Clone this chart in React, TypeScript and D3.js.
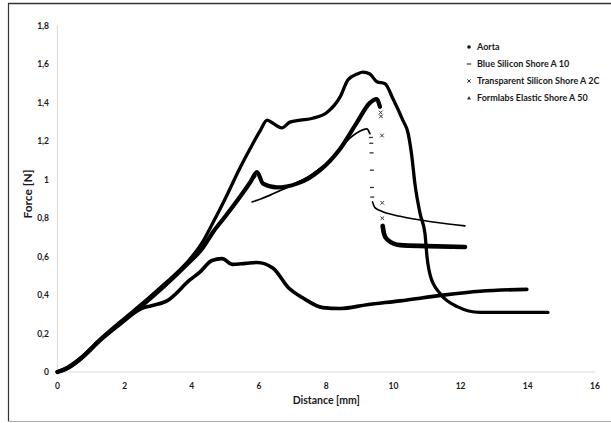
import * as d3 from "d3";
import { useEffect, useRef } from "react";

type P = [number, number];

// distance [mm], force [N]
const aorta: P[] = [
  [0, 0], [0.3, 0.02], [0.7, 0.07], [1.27, 0.165], [2, 0.27], [2.5, 0.33], [2.8, 0.345],
  [3.26, 0.37], [3.95, 0.48], [4.24, 0.52], [4.6, 0.58], [4.9, 0.59], [5.2, 0.56],
  [5.6, 0.565], [5.94, 0.57], [6.42, 0.54], [6.87, 0.44], [7.31, 0.385], [7.9, 0.335],
  [8.41, 0.33], [9.21, 0.35], [10.2, 0.37], [11.48, 0.4], [12.58, 0.42], [13.97, 0.43],
];

const blueA: P[] = [
  [0, 0], [0.3, 0.02], [0.7, 0.07], [1.27, 0.165], [2, 0.27], [2.55, 0.35], [3.2, 0.45],
  [3.86, 0.56], [4.3, 0.64], [4.64, 0.73], [5.0, 0.81], [5.43, 0.91], [5.75, 0.99], [5.9, 1.02],
];
const blueB: P[] = [
  [5.8, 0.885], [6.05, 0.9], [6.33, 0.92], [6.71, 0.95], [7.13, 0.985], [7.5, 1.02],
  [7.82, 1.06], [8.2, 1.11], [8.5, 1.18], [8.92, 1.245], [9.21, 1.265], [9.3, 1.24],
];
const blueDrop: P[] = [
  [9.33, 1.22], [9.34, 1.19], [9.35, 1.14], [9.36, 1.05], [9.36, 0.96], [9.37, 0.91],
];
const blueC: P[] = [
  [9.38, 0.885], [9.45, 0.855], [9.6, 0.84], [10.2, 0.81], [11.18, 0.78], [12.13, 0.76],
];

const transA: P[] = [
  [0, 0], [0.3, 0.02], [0.7, 0.07], [1.27, 0.165], [2, 0.27], [2.55, 0.35], [3.2, 0.45],
  [3.86, 0.56], [4.3, 0.64], [4.64, 0.73], [5.0, 0.81], [5.43, 0.91], [5.75, 0.99],
  [5.94, 1.04], [6.12, 0.98], [6.53, 0.96], [7.13, 0.98], [7.5, 1.01], [7.82, 1.05],
  [8.41, 1.16], [8.92, 1.3], [9.3, 1.4], [9.5, 1.42], [9.6, 1.38],
];
const transDrop: P[] = [
  [9.62, 1.35], [9.63, 1.33], [9.66, 1.23], [9.67, 0.88], [9.67, 0.8],
];
const transB: P[] = [
  [9.68, 0.76], [9.72, 0.72], [9.81, 0.69], [10.2, 0.66], [11, 0.655], [12.13, 0.65],
];

const formlabs: P[] = [
  [0, 0], [0.3, 0.025], [0.7, 0.075], [1.27, 0.17], [2, 0.28], [2.55, 0.36], [3.2, 0.46],
  [3.86, 0.57], [4.3, 0.67], [4.64, 0.78], [4.99, 0.9], [5.4, 1.05], [5.73, 1.16],
  [6.05, 1.26], [6.24, 1.31], [6.45, 1.29], [6.68, 1.27], [6.92, 1.3], [7.22, 1.31],
  [7.6, 1.32], [8.02, 1.35], [8.41, 1.43], [8.65, 1.52], [8.92, 1.55], [9.1, 1.56],
  [9.3, 1.55], [9.51, 1.51], [9.75, 1.5], [9.99, 1.42], [10.28, 1.31], [10.44, 1.24],
  [10.55, 1.12], [10.64, 0.98], [10.8, 0.82], [10.94, 0.72], [11.0, 0.6], [11.1, 0.5],
  [11.38, 0.41], [11.9, 0.34], [12.58, 0.31], [13.56, 0.31], [14.6, 0.31],
];

const xTicks = [0, 2, 4, 6, 8, 10, 12, 14, 16];
const yTicks = [0, 0.2, 0.4, 0.6, 0.8, 1, 1.2, 1.4, 1.6, 1.8];
const legendItems = [
  "Aorta",
  "Blue Silicon Shore A 10",
  "Transparent Silicon Shore A 2C",
  "Formlabs Elastic Shore A 50",
];

const font = "Lato, 'Open Sans', sans-serif";

export default function App() {
  const ref = useRef<SVGSVGElement | null>(null);

  useEffect(() => {
    const svg = d3.select(ref.current);
    svg.selectAll("*").remove();

    const x = d3.scaleLinear().domain([0, 16]).range([57.4, 595]);
    const y = d3.scaleLinear().domain([0, 1.8]).range([372, 26]);

    // frame
    svg.append("line").attr("x1", 8).attr("x2", 611).attr("y1", 3.5).attr("y2", 3.5)
      .attr("stroke", "#333").attr("stroke-width", 1.5);
    svg.append("line").attr("x1", 8.5).attr("x2", 8.5).attr("y1", 3).attr("y2", 422)
      .attr("stroke", "#333").attr("stroke-width", 1.2);
    svg.append("line").attr("x1", 8).attr("x2", 611).attr("y1", 421.5).attr("y2", 421.5)
      .attr("stroke", "#aaa").attr("stroke-width", 1);

    // axes
    svg.append("line").attr("x1", x(0)).attr("x2", x(0)).attr("y1", y(1.8)).attr("y2", y(0))
      .attr("stroke", "#d9d9d9").attr("stroke-width", 1);
    svg.append("line").attr("x1", x(0)).attr("x2", x(16)).attr("y1", y(0)).attr("y2", y(0))
      .attr("stroke", "#d9d9d9").attr("stroke-width", 1);

    const fmt = (v: number) => String(+v.toFixed(1)).replace(".", ",");
    svg.append("g").selectAll("text").data(yTicks).join("text")
      .attr("x", 49).attr("y", (d) => y(d)).attr("dy", "0.35em")
      .attr("text-anchor", "end").attr("font-family", font).attr("font-weight", 700)
      .attr("font-size", 8.5).attr("fill", "#1a1a1a").text(fmt);
    svg.append("g").selectAll("text").data(xTicks).join("text")
      .attr("x", (d) => x(d)).attr("y", 388.5)
      .attr("text-anchor", "middle").attr("font-family", font).attr("font-weight", 700)
      .attr("font-size", 8.5).attr("fill", "#1a1a1a").text((d) => String(d));

    svg.append("text").attr("x", x(8)).attr("y", 403.5).attr("text-anchor", "middle")
      .attr("font-family", font).attr("font-weight", 700).attr("font-size", 10.5)
      .attr("fill", "#1a1a1a").text("Distance [mm]");
    svg.append("text").attr("transform", `translate(32, 194) rotate(-90)`)
      .attr("text-anchor", "middle").attr("font-family", font).attr("font-weight", 700)
      .attr("font-size", 12).attr("fill", "#1a1a1a").text("Force [N]");

    const line = d3.line<P>().x((d) => x(d[0])).y((d) => y(d[1]))
      .curve(d3.curveMonotoneX);
    const path = (data: P[], w: number) =>
      svg.append("path").attr("d", line(data)).attr("fill", "none")
        .attr("stroke", "#000").attr("stroke-width", w)
        .attr("stroke-linejoin", "round").attr("stroke-linecap", "round");

    path(aorta, 3.6);
    path(formlabs, 3.3);
    path(transA, 4.2);
    path(transB, 4.6);
    path(blueA, 2);
    path(blueB, 1.8);
    path(blueC, 1.6);

    // sparse markers in drops
    svg.append("g").selectAll("line").data(blueDrop).join("line")
      .attr("x1", (d) => x(d[0]) - 2).attr("x2", (d) => x(d[0]) + 2)
      .attr("y1", (d) => y(d[1])).attr("y2", (d) => y(d[1]))
      .attr("stroke", "#333").attr("stroke-width", 1.3);
    svg.append("g").selectAll("path").data(transDrop).join("path")
      .attr("d", (d) => {
        const cx = x(d[0]), cy = y(d[1]), s = 1.8;
        return `M${cx - s},${cy - s}L${cx + s},${cy + s}M${cx - s},${cy + s}L${cx + s},${cy - s}`;
      })
      .attr("stroke", "#333").attr("stroke-width", 1);

    // legend
    const lg = svg.append("g").attr("font-family", font).attr("font-weight", 700)
      .attr("font-size", 9).attr("fill", "#1a1a1a");
    legendItems.forEach((name, i) => {
      const cy = 47 + i * 17;
      const mx = 469;
      if (i === 0) lg.append("circle").attr("cx", mx).attr("cy", cy).attr("r", 1.8).attr("fill", "#111");
      if (i === 1) lg.append("line").attr("x1", mx - 2.2).attr("x2", mx + 2.2).attr("y1", cy).attr("y2", cy)
        .attr("stroke", "#333").attr("stroke-width", 1.2);
      if (i === 2) lg.append("path")
        .attr("d", `M${mx - 1.7},${cy - 1.7}L${mx + 1.7},${cy + 1.7}M${mx - 1.7},${cy + 1.7}L${mx + 1.7},${cy - 1.7}`)
        .attr("stroke", "#333").attr("stroke-width", 1);
      if (i === 3) lg.append("path")
        .attr("d", `M${mx},${cy - 2}L${mx + 2},${cy + 1.6}L${mx - 2},${cy + 1.6}Z`).attr("fill", "#333");
      lg.append("text").attr("x", 477).attr("y", cy).attr("dy", "0.35em").text(name);
    });
  }, []);

  return (
    <svg
      ref={ref}
      width={611}
      height={423}
      style={{ position: "absolute", left: 0, top: 0, background: "#fff" }}
    />
  );
}
